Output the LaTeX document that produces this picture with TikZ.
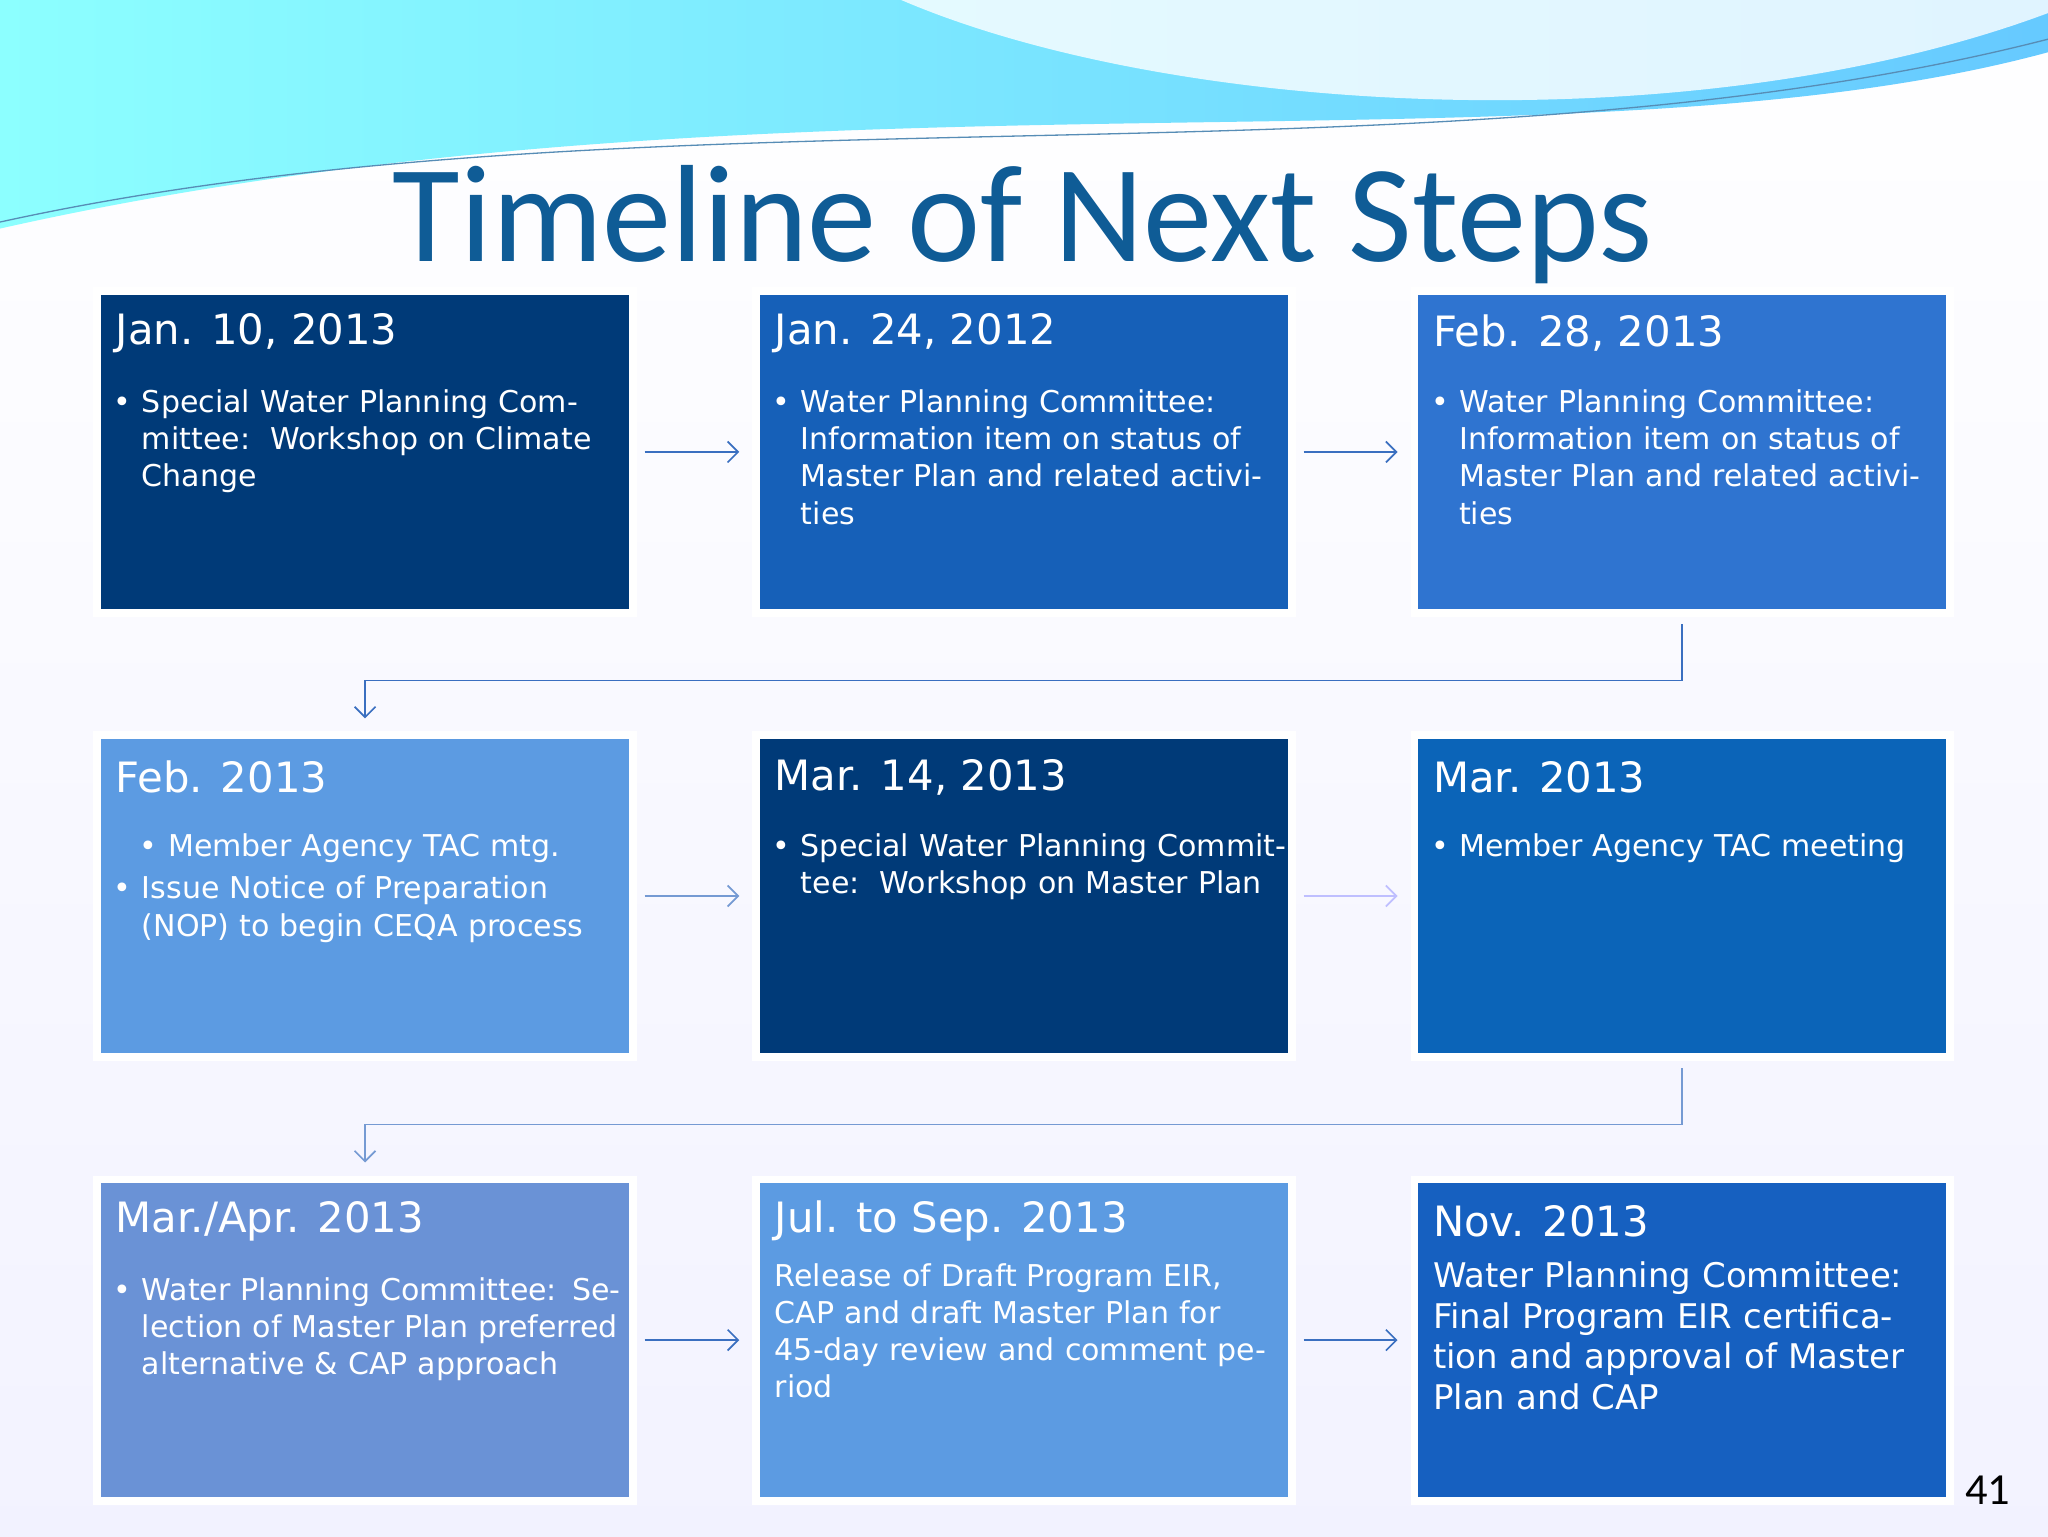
\documentclass[tikz,border=0pt]{standalone}
\usepackage{fontspec}
\setmainfont{DejaVu Sans}
\newfontfamily\titlefont{Carlito}
\usetikzlibrary{shadows,arrows.meta}
\definecolor{cA}{HTML}{003A78}
\definecolor{cB}{HTML}{1660B8}
\definecolor{cC}{HTML}{2F74D0}
\definecolor{cD}{HTML}{5C9BE2}
\definecolor{cE}{HTML}{0B64B8}
\definecolor{cF}{HTML}{6A92D6}
\definecolor{cG}{HTML}{1660C0}
\definecolor{lineblue}{HTML}{3A6FC0}
\definecolor{titleblue}{HTML}{0F5C96}
\newcommand{\bl}[1]{\par\hangindent=20pt\hangafter=0\noindent\llap{\textbullet\hspace{8pt}}#1}
\tikzset{
 box/.style={fill=#1,draw=white,line width=6pt,minimum width=410pt,minimum height=246pt,inner sep=0pt,
   drop shadow={shadow xshift=2pt,shadow yshift=-3pt,opacity=0.35}},
 head/.style={anchor=west,text=white,font=\fontsize{32}{36}\selectfont,inner sep=0pt},
 body/.style={anchor=north west,text=white,text width=372pt,align=left,inner sep=0pt,font=\fontsize{23}{28.5}\selectfont},
 conn/.style={lineblue,line width=1.3pt,-{Straight Barb[length=8pt,width=16pt]}},
}
\begin{document}
\begin{tikzpicture}[x=1pt,y=-1pt]
\useasboundingbox (0,0) rectangle (1568,1176);
\fill[top color=white,bottom color=blue!5!white] (0,0) rectangle (1568,1176);
\shade[left color=cyan!45!white,right color=blue!35!cyan!60!white]
 (0,0) -- (1568,0) -- (1568,40) .. controls (1200,140) and (600,40) .. (0,175) -- cycle;
\fill[white,opacity=0.8] (690,0) .. controls (900,90) and (1300,110) .. (1568,10) -- (1568,0) -- cycle;
\draw[titleblue!70,line width=1pt] (0,170) .. controls (500,60) and (1100,150) .. (1568,30);
\node[anchor=base,text=titleblue,font=\titlefont\fontsize{106}{110}\selectfont] (title) at (783,200) {Timeline of Next Steps};
% boxes
\node[box=cA] (b11) at (279.5,346) {};
\node[box=cB] (b12) at (784,346) {};
\node[box=cC] (b13) at (1288,346) {};
\node[box=cD] (b21) at (279.5,686) {};
\node[box=cA] (b22) at (784,686) {};
\node[box=cE] (b23) at (1288,686) {};
\node[box=cF] (b31) at (279.5,1026) {};
\node[box=cD] (b32) at (784,1026) {};
\node[box=cG] (b33) at (1288,1026) {};
% text
\node[head] at ([xshift=17pt,yshift=-35pt]b11.north west) {Jan. 10, 2013};
\node[body] at ([xshift=37pt,yshift=-67pt]b11.north west) {\bl{Special Water Planning Committee:\ \ Workshop on Climate Change}};
\node[head] at ([xshift=17pt,yshift=-35pt]b12.north west) {Jan. 24, 2012};
\node[body] at ([xshift=37pt,yshift=-67pt]b12.north west) {\bl{Water Planning Committee: Information item on status of Master Plan and related activities}};
\node[head] at ([xshift=17pt,yshift=-35pt]b13.north west) {Feb. 28, 2013};
\node[body] at ([xshift=37pt,yshift=-67pt]b13.north west) {\bl{Water Planning Committee: Information item on status of Master Plan and related activities}};
\node[head] at ([xshift=17pt,yshift=-35pt]b21.north west) {Feb. 2013};
\node[body] at ([xshift=37pt,yshift=-67pt]b21.north west) {\bl{Member Agency TAC mtg.}\vspace{4pt}\bl{Issue Notice of Preparation (NOP) to begin CEQA process}};
\node[head] at ([xshift=17pt,yshift=-35pt]b22.north west) {Mar. 14, 2013};
\node[body] at ([xshift=37pt,yshift=-67pt]b22.north west) {\bl{Special Water Planning Committee:\ \ Workshop on Master Plan}};
\node[head] at ([xshift=17pt,yshift=-35pt]b23.north west) {Mar. 2013};
\node[body] at ([xshift=37pt,yshift=-67pt]b23.north west) {\bl{Member Agency TAC meeting}};
\node[head] at ([xshift=17pt,yshift=-35pt]b31.north west) {Mar./Apr. 2013};
\node[body] at ([xshift=37pt,yshift=-67pt]b31.north west) {\bl{Water Planning Committee: Selection of Master Plan preferred alternative \& CAP approach}};
\node[head] at ([xshift=17pt,yshift=-35pt]b32.north west) {Jul. to Sep. 2013};
\node[body,text width=380pt] at ([xshift=17pt,yshift=-67pt]b32.north west) {Release of Draft Program EIR, CAP and draft Master Plan for 45-day review and comment period};
\node[head] at ([xshift=17pt,yshift=-35pt]b33.north west) {Nov. 2013};
\node[body,text width=385pt,font=\fontsize{26}{31}\selectfont] at ([xshift=17pt,yshift=-66pt]b33.north west) {Water Planning Committee:\ \ Final Program EIR certification and approval of Master Plan and CAP};
% connectors
\draw[conn] ([xshift=6pt]b11.east) -- ([xshift=-10pt]b12.west);
\draw[conn] ([xshift=6pt]b12.east) -- ([xshift=-10pt]b13.west);
\draw[conn] ([yshift=-6pt]b13.south) -- ++(0,43) -| ([yshift=10pt]b21.north);
\draw[conn,draw=lineblue!70] ([xshift=6pt]b21.east) -- ([xshift=-10pt]b22.west);
\draw[conn,draw=blue!25!white] ([xshift=6pt]b22.east) -- ([xshift=-10pt]b23.west);
\draw[conn,draw=lineblue!70] ([yshift=-6pt]b23.south) -- ++(0,43) -| ([yshift=10pt]b31.north);
\draw[conn] ([xshift=6pt]b31.east) -- ([xshift=-10pt]b32.west);
\draw[conn] ([xshift=6pt]b32.east) -- ([xshift=-10pt]b33.west);
\node[anchor=base,font=\titlefont\fontsize{34}{36}\selectfont] (pg) at (1522,1152) {41};
\end{tikzpicture}
\end{document}
